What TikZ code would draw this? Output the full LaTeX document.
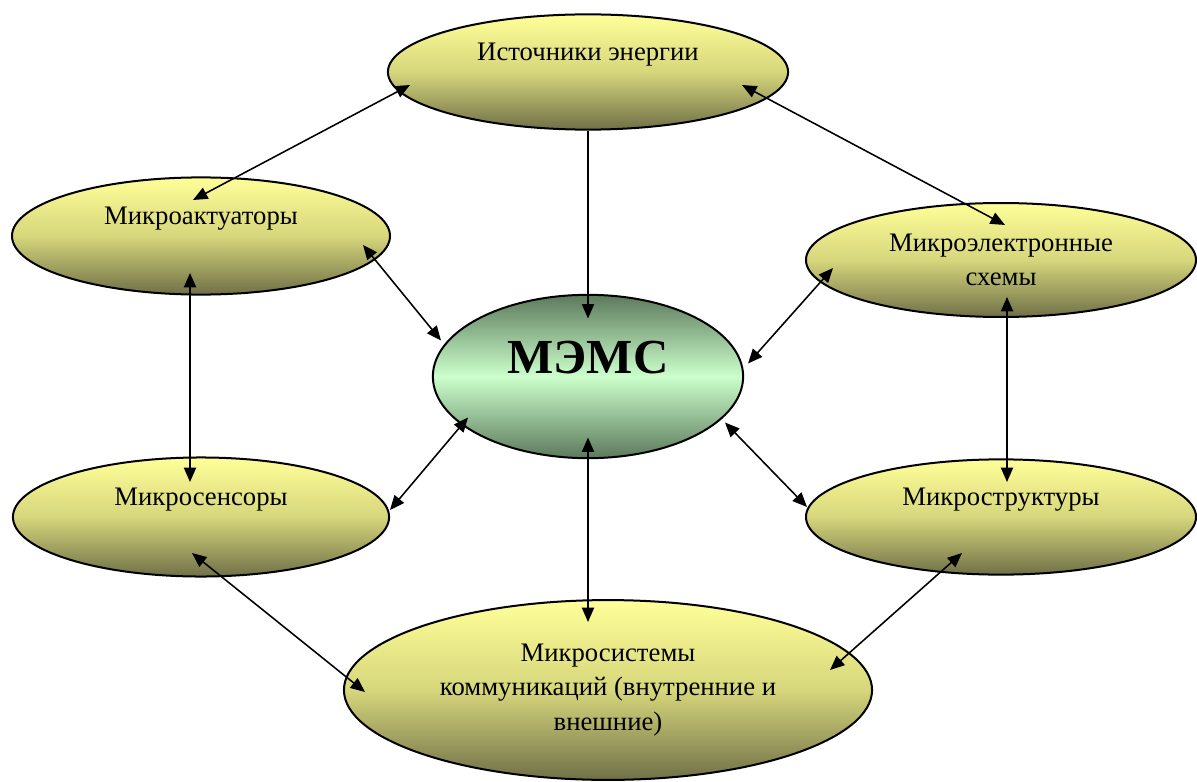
\documentclass[tikz,border=0pt]{standalone}
\usepackage{fontspec}
\setmainfont{Liberation Serif}
\usetikzlibrary{arrows.meta, calc, shapes.geometric}
\definecolor{blobtop}{RGB}{255,255,153}
\definecolor{blobmid}{RGB}{214,214,124}
\definecolor{blobbot}{RGB}{112,112,72}
\definecolor{coreedge}{RGB}{92,122,92}
\definecolor{coremid}{RGB}{204,255,204}

\begin{document}
\begin{tikzpicture}[
        x=0.0158cm, y=-0.0158cm,
        blob/.style={ellipse, draw, line width=0.9pt, inner sep=0pt, align=center,
                     top color=blobtop, bottom color=blobbot, middle color=blobmid,
                     font=\fontsize{12}{15.5}\selectfont},
        upper/.style={text height=8pt, text depth=18pt},
        core/.style={ellipse, draw, line width=0.9pt, inner sep=0pt,
                     top color=coreedge, bottom color=coreedge, middle color=coremid,
                     font=\fontsize{22}{26}\selectfont\bfseries, text height=16pt, text depth=19pt},
        line/.style={line width=0.7pt},
        arr/.style={line, -{Triangle[length=6.5pt, width=5.5pt]}},
        biarr/.style={line, {Triangle[length=6.5pt, width=5.5pt]}-{Triangle[length=6.5pt, width=5.5pt]}}
    ]
        \useasboundingbox (0,0) rectangle (1197,782);

        % -- centre --
        \node[core] (mems) at (588, 376.5) [minimum width=4.90cm, minimum height=2.58cm] {МЭМС};
        % -- surrounding blocks --
        \node[blob, upper] (energy) at (588, 72)  [minimum width=6.32cm, minimum height=1.82cm] {Источники энергии};
        \node[blob, upper] (act)    at (201, 236) [minimum width=5.97cm, minimum height=1.85cm] {Микроактуаторы};
        \node[blob]        (elec)   at (1001, 260) [minimum width=6.16cm, minimum height=1.80cm] {Микроэлектронные\\схемы};
        \node[blob, upper] (sens)   at (201, 517) [minimum width=5.94cm, minimum height=1.88cm] {Микросенсоры};
        \node[blob, upper] (struct) at (1001, 517) [minimum width=6.16cm, minimum height=1.82cm] {Микроструктуры};
        \node[blob]        (comm)   at (608, 690) [minimum width=8.34cm, minimum height=2.84cm] {Микросистемы\\коммуникаций (внутренние и\\внешние)};

        % outer ring
        \draw[biarr] ($(act)+(-8,-36)$) -- ($(energy)+(-178,13)$);
        \draw[biarr] ($(energy)+(154,13)$) -- ($(elec)+(4,-35)$);
        \draw[biarr] ($(act)+(-11,37)$) -- ($(sens)+(-11,-35)$);
        \draw[biarr] ($(elec)+(6,37)$) -- ($(struct)+(6,-35)$);
        \draw[biarr] ($(sens)+(-9,36)$) -- ($(comm)+(-243,2)$);
        \draw[biarr] ($(struct)+(-39,36)$) -- ($(comm)+(222,-20)$);

        % spokes to the centre
        \draw[arr]   (energy.south) -- ($(mems)+(0,-58)$);
        \draw[biarr] ($(act)+(162,9)$) -- ($(mems)+(-147,-36)$);
        \draw[biarr] ($(elec)+(-168,8)$) -- ($(mems)+(160,-13)$);
        \draw[biarr] ($(sens)+(189,-7)$) -- ($(mems)+(-120,41)$);
        \draw[biarr] ($(struct)+(-194,-10)$) -- ($(mems)+(137,46)$);
        \draw[biarr] ($(mems)+(0,61)$) -- ($(comm)+(-20,-68)$);
    \end{tikzpicture}
\end{document}
